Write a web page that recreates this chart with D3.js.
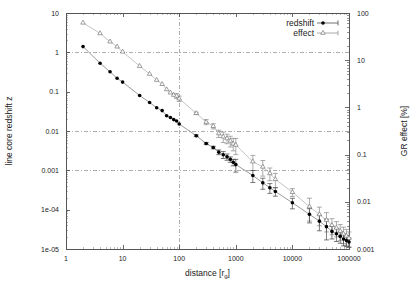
<!DOCTYPE html>
<html>
<head>
<meta charset="utf-8">
<script src="https://cdn.jsdelivr.net/npm/d3@7"></script>
<style>
  body { margin: 0; background: #fff; }
  svg { display: block; font-family: "Liberation Sans", Arial, sans-serif; }
  .tick-label { font-size: 7px; fill: #222; }
  .title { font-size: 8.5px; fill: #222; }
</style>
</head>
<body>
<svg width="415" height="291"></svg>
<script>
const width = 415;
const height = 291;
const svg = d3.select("svg");

// data
const distance = [2, 4, 6, 8, 10, 20, 30, 40, 50, 60, 70, 80, 90, 100,
  200, 300, 400, 500, 600, 700, 800, 900, 1000, 2000, 3000, 4000, 5000,
  10000, 20000, 30000, 40000, 50000, 60000, 70000, 80000, 90000, 100000];
const redshift = [1.4, 0.53, 0.32, 0.22, 0.175, 0.08, 0.053, 0.039, 0.033, 0.0245, 0.022, 0.0195, 0.018, 0.015,
  0.0076, 0.0048, 0.0038, 0.0029, 0.0025, 0.0022, 0.0019, 0.0016, 0.0014, 0.00074, 0.00048, 0.00036, 0.00029,
  0.00015, 7.6e-5, 5.1e-5, 3.7e-5, 2.8e-5, 2.45e-5, 2.1e-5, 1.8e-5, 1.65e-5, 1.5e-5];
const redshiftErr = [0, 0, 0, 0, 0, 0, 0, 0, 0, 0, 0, 0, 0, 0,
  0.0004, 0.0003, 0.0003, 0.0004, 0.0005, 0.0004, 0.0003, 0.0003, 0.0005, 0.00025, 0.00015, 0.0001, 0.00007,
  0.000045, 0.00003, 0.000022, 0.00002, 0.00001, 0.000009, 0.000007, 0.000006, 0.000005, 0.000004];
const effect = [62, 37, 24.7, 19.3, 15.1, 7.5, 5.1, 3.8, 3.1, 2.4, 2.05, 1.83, 1.75, 1.53,
  0.75, 0.49, 0.40, 0.28, 0.24, 0.22, 0.195, 0.17, 0.16, 0.071, 0.055, 0.04, 0.03,
  0.016, 0.0079, 0.0054, 0.0041, 0.0032, 0.0028, 0.0024, 0.0021, 0.0019, 0.0017];
const effectErr = [0, 0, 0, 0, 0, 0, 0, 0, 0, 0, 0, 0, 0.2, 0.2,
  0.04, 0.06, 0.05, 0.05, 0.06, 0.05, 0.05, 0.05, 0.06, 0.025, 0.02, 0.012, 0.01,
  0.003, 0.004, 0.0023, 0.0018, 0.0012, 0.001, 0.0009, 0.0008, 0.0007, 0.0006];

const xTicks = [1, 10, 100, 1000, 10000, 100000];
const xTickLabels = ["1", "10", "100", "1000", "10000", "100000"];
const yTicks = [10, 1, 0.1, 0.01, 0.001, 1e-4, 1e-5];
const yTickLabels = ["10", "1", "0.1", "0.01", "0.001", "1e-04", "1e-05"];
const y2Ticks = [100, 10, 1, 0.1, 0.01, 0.001];
const y2TickLabels = ["100", "10", "1", "0.1", "0.01", "0.001"];
const hGrid = [1, 0.01, 0.001];
const vGrid = [100];

const pLeft = 66, pRight = 349, pTop = 13, pBottom = 249;

const x = d3.scaleLog().domain([1, 100000]).range([pLeft, pRight]);
const y = d3.scaleLog().domain([1e-5, 10]).range([pBottom, pTop]);
const y2 = d3.scaleLog().domain([0.001, 100]).range([pBottom, pTop]);

function minorTicks(lo, hi) {
    const out = [];
    for (let e = Math.floor(Math.log10(lo)); e < Math.ceil(Math.log10(hi)); e++) {
        for (let k = 2; k <= 9; k++) out.push(k * Math.pow(10, e));
    }
    return out;
}

// reference lines
svg.selectAll(".hgrid").data(hGrid).enter().append("line")
    .attr("x1", pLeft).attr("x2", pRight)
    .attr("y1", d => Math.round(y(d)) + 0.5).attr("y2", d => Math.round(y(d)) + 0.5)
    .attr("stroke", "#999").attr("stroke-width", 0.8).attr("stroke-dasharray", "4,2,1,2");
svg.selectAll(".vgrid").data(vGrid).enter().append("line")
    .attr("y1", pTop).attr("y2", pBottom)
    .attr("x1", d => Math.round(x(d)) + 0.5).attr("x2", d => Math.round(x(d)) + 0.5)
    .attr("stroke", "#999").attr("stroke-width", 0.8).attr("stroke-dasharray", "4,2,1,2");

// ticks
const tickG = svg.append("g").attr("stroke", "#444").attr("stroke-width", 0.8);
xTicks.forEach(d => {
    const px = Math.round(x(d)) + 0.5;
    tickG.append("line").attr("x1", px).attr("x2", px).attr("y1", pBottom).attr("y2", pBottom - 4);
    tickG.append("line").attr("x1", px).attr("x2", px).attr("y1", pTop).attr("y2", pTop + 4);
});
minorTicks(1, 100000).forEach(d => {
    const px = Math.round(x(d)) + 0.5;
    tickG.append("line").attr("x1", px).attr("x2", px).attr("y1", pBottom).attr("y2", pBottom - 2).attr("stroke", "#aaa");
    tickG.append("line").attr("x1", px).attr("x2", px).attr("y1", pTop).attr("y2", pTop + 2).attr("stroke", "#aaa");
});
yTicks.forEach(d => {
    const py = Math.round(y(d)) + 0.5;
    tickG.append("line").attr("x1", pLeft).attr("x2", pLeft + 4).attr("y1", py).attr("y2", py);
});
minorTicks(1e-5, 10).forEach(d => {
    const py = Math.round(y(d)) + 0.5;
    tickG.append("line").attr("x1", pLeft).attr("x2", pLeft + 2).attr("y1", py).attr("y2", py).attr("stroke", "#aaa");
});
y2Ticks.forEach(d => {
    const py = Math.round(y2(d)) + 0.5;
    tickG.append("line").attr("x1", pRight).attr("x2", pRight - 4).attr("y1", py).attr("y2", py);
});
minorTicks(0.001, 100).forEach(d => {
    const py = Math.round(y2(d)) + 0.5;
    tickG.append("line").attr("x1", pRight).attr("x2", pRight - 2).attr("y1", py).attr("y2", py).attr("stroke", "#777");
});

// frame
svg.append("rect")
    .attr("x", pLeft + 0.5).attr("y", pTop + 0.5)
    .attr("width", pRight - pLeft).attr("height", pBottom - pTop)
    .attr("fill", "none").attr("stroke", "#555").attr("stroke-width", 1);

// tick labels
svg.selectAll(".xl").data(xTicks).enter().append("text")
    .attr("class", "tick-label")
    .attr("x", d => x(d)).attr("y", pBottom + 12)
    .attr("text-anchor", "middle")
    .text((d, i) => xTickLabels[i]);
svg.selectAll(".yl").data(yTicks).enter().append("text")
    .attr("class", "tick-label")
    .attr("x", pLeft - 7).attr("y", d => y(d) + 2.5)
    .attr("text-anchor", "end")
    .text((d, i) => yTickLabels[i]);
svg.selectAll(".y2l").data(y2Ticks).enter().append("text")
    .attr("class", "tick-label")
    .attr("x", pRight + 8).attr("y", d => y2(d) + 2.5)
    .attr("text-anchor", "start")
    .text((d, i) => y2TickLabels[i]);

// axis titles
svg.append("text").attr("class", "title")
    .attr("transform", `translate(12,${(pTop + pBottom) / 2}) rotate(-90)`)
    .attr("text-anchor", "middle")
    .text("line core redshift z");
svg.append("text").attr("class", "title")
    .attr("transform", `translate(407,${(pTop + pBottom) / 2}) rotate(-90)`)
    .attr("text-anchor", "middle")
    .text("GR effect [%]");
const xt = svg.append("text").attr("class", "title")
    .attr("x", (pLeft + pRight) / 2).attr("y", 276)
    .attr("text-anchor", "middle");
xt.append("tspan").text("distance [r");
xt.append("tspan").attr("font-size", "6px").attr("dy", 2).text("g");
xt.append("tspan").attr("dy", -2).text("]");

const rows = distance.map((d, i) => ({
    r: d, z: redshift[i], ze: redshiftErr[i], e: effect[i], ee: effectErr[i]
}));

// connecting lines
svg.append("path").datum(rows)
    .attr("fill", "none").attr("stroke", "#aaa").attr("stroke-width", 0.7)
    .attr("d", d3.line().x(d => x(d.r)).y(d => y2(d.e)));
svg.append("path").datum(rows)
    .attr("fill", "none").attr("stroke", "#555").attr("stroke-width", 0.6)
    .attr("d", d3.line().x(d => x(d.r)).y(d => y(d.z)));

function errorBars(data, yScale, val, err, color) {
    const g = svg.append("g").attr("stroke", color).attr("stroke-width", 0.7);
    data.filter(d => err(d) > 0).forEach(d => {
        const px = x(d.r);
        const lo = Math.max(val(d) - err(d), yScale.domain()[0]);
        const y1 = yScale(val(d) + err(d)), y0 = yScale(lo);
        g.append("line").attr("x1", px).attr("x2", px).attr("y1", y1).attr("y2", y0);
        g.append("line").attr("x1", px - 2.5).attr("x2", px + 2.5).attr("y1", y1).attr("y2", y1);
        g.append("line").attr("x1", px - 2.5).attr("x2", px + 2.5).attr("y1", y0).attr("y2", y0);
    });
}
errorBars(rows, y2, d => d.e, d => d.ee, "#888");
errorBars(rows, y, d => d.z, d => d.ze, "#444");

const tri = d3.symbol().type(d3.symbolTriangle).size(9);
svg.selectAll(".tri").data(rows).enter().append("path")
    .attr("transform", d => `translate(${x(d.r)},${y2(d.e)})`)
    .attr("d", tri)
    .attr("fill", "#fff").attr("stroke", "#777").attr("stroke-width", 0.7);
svg.selectAll(".dot").data(rows).enter().append("circle")
    .attr("cx", d => x(d.r)).attr("cy", d => y(d.z)).attr("r", 1.8)
    .attr("fill", "#000");

// legend
const legend = [
    { label: "redshift", ly: 23, color: "#333", mark: "dot" },
    { label: "effect", ly: 33, color: "#888", mark: "tri" }
];
legend.forEach(l => {
    svg.append("text").attr("class", "title")
        .attr("x", 314).attr("y", l.ly + 3)
        .attr("text-anchor", "end")
        .text(l.label);
    svg.append("line").attr("x1", 317).attr("x2", 338).attr("y1", l.ly).attr("y2", l.ly)
        .attr("stroke", l.color).attr("stroke-width", 0.7);
    svg.append("line").attr("x1", 338).attr("x2", 338).attr("y1", l.ly - 2.5).attr("y2", l.ly + 2.5)
        .attr("stroke", l.color).attr("stroke-width", 0.7);
    if (l.mark === "dot") {
        svg.append("circle").attr("cx", 323).attr("cy", l.ly).attr("r", 1.8).attr("fill", "#000");
    } else {
        svg.append("path").attr("transform", `translate(323,${l.ly})`).attr("d", tri)
            .attr("fill", "#fff").attr("stroke", "#777").attr("stroke-width", 0.7);
    }
});
</script>
</body>
</html>
